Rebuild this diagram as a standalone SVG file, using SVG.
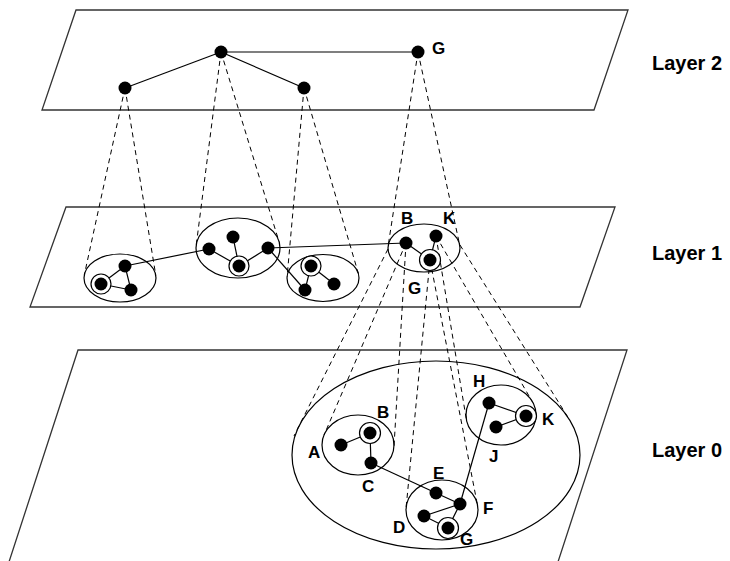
<svg xmlns="http://www.w3.org/2000/svg" width="730" height="561" viewBox="0 0 730 561">
<style>
.plane{fill:none;stroke:#333;stroke-width:1.3}
.cl{fill:none;stroke:#000;stroke-width:1.2}
.e{stroke:#000;stroke-width:1.2;fill:none}
.d{stroke:#000;stroke-width:1;stroke-dasharray:5,4;fill:none}
.n{fill:#000}
.ring{fill:#fff;stroke:#000;stroke-width:1.2}
.lbl{font-family:"Liberation Sans",Arial,sans-serif;font-weight:bold;font-size:17px;fill:#000}
.ly{font-family:"Liberation Sans",Arial,sans-serif;font-weight:bold;font-size:20px;fill:#000}
</style>
<rect width="730" height="561" fill="#fff"/>
<g id="planes">
<polygon class="plane" points="76,10 628,10 594,110 42,110"/>
<polygon class="plane" points="66,207 615,207 580,307 30,307"/>
<polygon class="plane" points="78,350 627,350 557,565 8,565"/>
</g>
<g id="clusters">
<ellipse id="c1a" class="cl" cx="120" cy="278" rx="36" ry="24"/>
<ellipse id="c1b" class="cl" cx="238" cy="248" rx="42" ry="30"/>
<ellipse id="c1c" class="cl" cx="323" cy="278" rx="36" ry="23.5"/>
<ellipse id="c1d" class="cl" cx="424" cy="248" rx="36" ry="24"/>
<ellipse id="c0" class="cl" cx="436" cy="455" rx="144" ry="94"/>
<ellipse id="c0abc" class="cl" cx="358" cy="445" rx="36" ry="30"/>
<ellipse id="c0defg" class="cl" cx="442" cy="510" rx="36" ry="30"/>
<ellipse id="c0hjk" class="cl" cx="501" cy="415" rx="35" ry="30"/>
</g>
<g id="connectors">
<line class="d" x1="125" y1="88" x2="84.4" y2="274.5"/>
<line class="d" x1="125" y1="88" x2="155.8" y2="275.4"/>
<line class="d" x1="221" y1="52" x2="196.2" y2="245.3"/>
<line class="d" x1="221" y1="52" x2="279" y2="241.6"/>
<line class="d" x1="304" y1="88" x2="287.1" y2="276.6"/>
<line class="d" x1="304" y1="88" x2="358.4" y2="273.6"/>
<line class="d" x1="418" y1="52" x2="388.2" y2="245.5"/>
<line class="d" x1="418" y1="52" x2="459.6" y2="244.6"/>
<line class="d" x1="388" y1="249" x2="294" y2="436"/>
<line class="d" x1="406" y1="243" x2="324.1" y2="435"/>
<line class="d" x1="406" y1="243" x2="394" y2="446.5"/>
<line class="d" x1="430" y1="260" x2="406.1" y2="507.6"/>
<line class="d" x1="430" y1="260" x2="477.5" y2="505.2"/>
<line class="d" x1="436" y1="236" x2="466.3" y2="419.2"/>
<line class="d" x1="436" y1="236" x2="532.3" y2="401.6"/>
<line class="d" x1="460" y1="245" x2="569.3" y2="419.4"/>
<line class="e" x1="221" y1="52" x2="125" y2="88"/>
<line class="e" x1="221" y1="52" x2="304" y2="88"/>
<line class="e" x1="221" y1="52" x2="418" y2="52"/>
<line class="e" x1="125" y1="266" x2="101" y2="284"/>
<line class="e" x1="125" y1="266" x2="131" y2="290"/>
<line class="e" x1="101" y1="284" x2="131" y2="290"/>
<line class="e" x1="125" y1="266" x2="209" y2="249"/>
<line class="e" x1="209" y1="249" x2="239" y2="266"/>
<line class="e" x1="233" y1="237" x2="239" y2="266"/>
<line class="e" x1="268" y1="248" x2="239" y2="266"/>
<line class="e" x1="268" y1="248" x2="406" y2="243"/>
<line class="e" x1="268" y1="248" x2="305" y2="290"/>
<line class="e" x1="311" y1="266" x2="305" y2="290"/>
<line class="e" x1="311" y1="266" x2="334" y2="284"/>
<line class="e" x1="406" y1="243" x2="430" y2="260"/>
<line class="e" x1="436" y1="236" x2="430" y2="260"/>
<line class="e" x1="341" y1="445" x2="370" y2="433"/>
<line class="e" x1="370" y1="433" x2="371" y2="463"/>
<line class="e" x1="371" y1="463" x2="436" y2="493"/>
<line class="e" x1="436" y1="493" x2="460" y2="504"/>
<line class="e" x1="460" y1="504" x2="424" y2="516"/>
<line class="e" x1="424" y1="516" x2="448" y2="528"/>
<line class="e" x1="460" y1="504" x2="448" y2="528"/>
<line class="e" x1="460" y1="504" x2="489" y2="403"/>
<line class="e" x1="489" y1="403" x2="526" y2="416"/>
<line class="e" x1="526" y1="416" x2="496" y2="427"/>
</g>
<g id="L2a"><circle class="n" cx="221" cy="52" r="6.5"/></g>
<g id="L2b"><circle class="n" cx="125" cy="88" r="6.5"/></g>
<g id="L2c"><circle class="n" cx="304" cy="88" r="6.5"/></g>
<g id="L2G"><circle class="n" cx="418" cy="52" r="6.5"/><text class="lbl" x="432" y="54">G</text></g>
<g id="L1a1"><circle class="n" cx="125" cy="266" r="6.5"/></g>
<g id="L1a2"><circle class="ring" cx="101" cy="284" r="10"/><circle class="n" cx="101" cy="284" r="6.5"/></g>
<g id="L1a3"><circle class="n" cx="131" cy="290" r="6.5"/></g>
<g id="L1b1"><circle class="n" cx="209" cy="249" r="6.5"/></g>
<g id="L1b2"><circle class="n" cx="233" cy="237" r="6.5"/></g>
<g id="L1b3"><circle class="ring" cx="239" cy="266" r="10"/><circle class="n" cx="239" cy="266" r="6.5"/></g>
<g id="L1b4"><circle class="n" cx="268" cy="248" r="6.5"/></g>
<g id="L1c1"><circle class="ring" cx="311" cy="266" r="10"/><circle class="n" cx="311" cy="266" r="6.5"/></g>
<g id="L1c2"><circle class="n" cx="305" cy="290" r="6.5"/></g>
<g id="L1c3"><circle class="n" cx="334" cy="284" r="6.5"/></g>
<g id="L1B"><circle class="n" cx="406" cy="243" r="6.5"/><text class="lbl" x="401" y="224">B</text></g>
<g id="L1K"><circle class="n" cx="436" cy="236" r="6.5"/><text class="lbl" x="443" y="224">K</text></g>
<g id="L1G"><circle class="ring" cx="430" cy="260" r="10.5"/><circle class="n" cx="430" cy="260" r="6.5"/><text class="lbl" x="408" y="294">G</text></g>
<g id="A"><circle class="n" cx="341" cy="445" r="6.5"/><text class="lbl" x="308" y="458">A</text></g>
<g id="B"><circle class="ring" cx="370" cy="433" r="10.5"/><circle class="n" cx="370" cy="433" r="6.5"/><text class="lbl" x="377" y="418">B</text></g>
<g id="C"><circle class="n" cx="371" cy="463" r="6.5"/><text class="lbl" x="362" y="492">C</text></g>
<g id="E"><circle class="n" cx="436" cy="493" r="6.5"/><text class="lbl" x="433" y="479">E</text></g>
<g id="F"><circle class="n" cx="460" cy="504" r="6.5"/><text class="lbl" x="483" y="514">F</text></g>
<g id="D"><circle class="n" cx="424" cy="516" r="6.5"/><text class="lbl" x="393" y="533">D</text></g>
<g id="G"><circle class="ring" cx="448" cy="528" r="10.5"/><circle class="n" cx="448" cy="528" r="6.5"/><text class="lbl" x="460" y="545">G</text></g>
<g id="H"><circle class="n" cx="489" cy="403" r="6.5"/><text class="lbl" x="473" y="387">H</text></g>
<g id="K"><circle class="ring" cx="526" cy="416" r="10.5"/><circle class="n" cx="526" cy="416" r="6.5"/><text class="lbl" x="542" y="425">K</text></g>
<g id="J"><circle class="n" cx="496" cy="427" r="6.5"/><text class="lbl" x="489" y="462">J</text></g>
<g id="labels">
<text class="ly" x="652" y="70">Layer 2</text>
<text class="ly" x="652" y="260">Layer 1</text>
<text class="ly" x="652" y="457">Layer 0</text>
</g>
</svg>
